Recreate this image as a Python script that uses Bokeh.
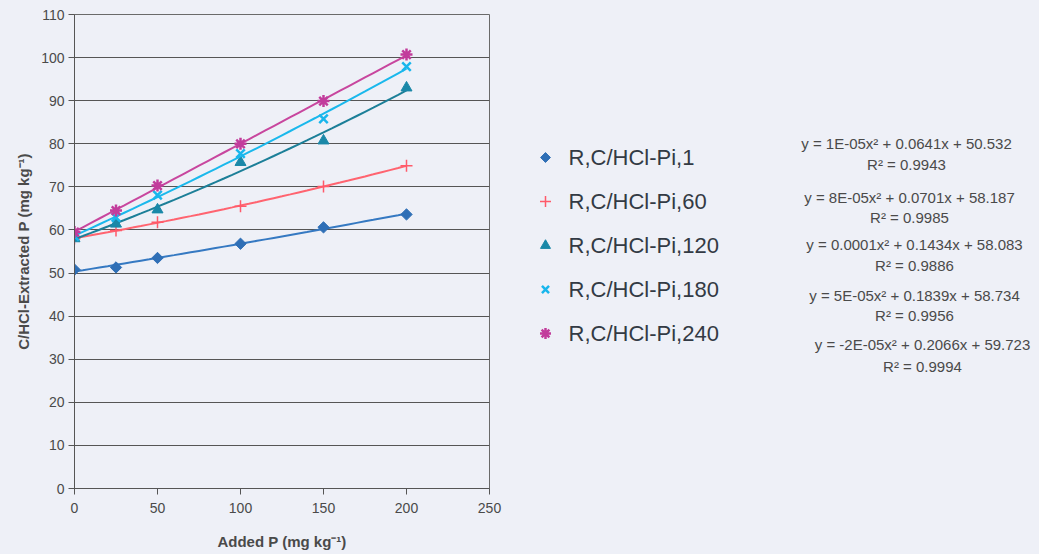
import numpy as np
from bokeh.plotting import figure
from bokeh.layouts import row
from bokeh.models import Range1d, FixedTicker, ColumnDataSource
from bokeh.core.properties import value
from bokeh.embed import file_html
from bokeh.resources import INLINE

# ---- data ----
added_p = [0, 25, 50, 100, 150, 200]
s1 = [50.8, 51.3, 53.5, 56.8, 60.6, 63.6]
s60 = [58.0, 59.9, 61.8, 65.5, 70.1, 74.9]
s120 = [58.0, 61.4, 64.7, 75.7, 80.7, 93.0]
s180 = [58.5, 62.9, 68.1, 77.7, 85.8, 97.9]
s240 = [59.5, 64.5, 70.3, 80.0, 89.9, 100.7]

names = ["R,C/HCl-Pi,1", "R,C/HCl-Pi,60", "R,C/HCl-Pi,120", "R,C/HCl-Pi,180", "R,C/HCl-Pi,240"]
equations = ["y = 1E-05x² + 0.0641x + 50.532",
             "y = 8E-05x² + 0.0701x + 58.187",
             "y = 0.0001x² + 0.1434x + 58.083",
             "y = 5E-05x² + 0.1839x + 58.734",
             "y = -2E-05x² + 0.2066x + 59.723"]
r2 = ["R² = 0.9943", "R² = 0.9985", "R² = 0.9886", "R² = 0.9956", "R² = 0.9994"]

x_ticks = [0, 50, 100, 150, 200, 250]
y_ticks = [0, 10, 20, 30, 40, 50, 60, 70, 80, 90, 100, 110]

series = [s1, s60, s120, s180, s240]
marker_types = ["square", "cross", "triangle", "x", "asterisk"]
marker_angles = [np.pi / 4, 0, 0, 0, 0]
marker_colors = ["#2f6fb6", "#ff5a6a", "#1a88a8", "#19b6ec", "#c23c9c"]
line_colors = ["#3579c2", "#ff6470", "#1c7f98", "#1ab8ec", "#c8469e"]
marker_sizes = [8, 12, 11, 12, 12]
marker_widths = [1, 1.5, 1, 2.5, 2.5]

BG = "#eef0f7"
FONT = "Liberation Sans"
TXT = "#4a4a4a"


def draw_marker(fig, x, y, mt, ang, mc, ms, mw, **kw):
    if mt in ("cross", "x", "asterisk"):
        fig.scatter(x, y, marker=mt, angle=ang, size=ms, line_color=mc, line_width=mw, **kw)
    else:
        fig.scatter(x, y, marker=mt, angle=ang, size=ms, fill_color=mc, line_color=mc,
                    line_width=mw, **kw)


# ---- main plot ----
p = figure(width=520, height=554, output_backend="svg", toolbar_location=None,
           x_range=Range1d(0, 250), y_range=Range1d(0, 110),
           min_border_left=74, min_border_right=31, min_border_top=14, min_border_bottom=66)
p.background_fill_color = BG
p.border_fill_color = BG
p.outline_line_color = "#6a6a6a"

p.xaxis.ticker = FixedTicker(ticks=x_ticks)
p.yaxis.ticker = FixedTicker(ticks=y_ticks)
for ax in (p.xaxis[0], p.yaxis[0]):
    ax.axis_line_color = "#555555"
    ax.major_tick_line_color = "#555555"
    ax.major_tick_out = 6
    ax.major_tick_in = 0
    ax.minor_tick_line_color = None
    ax.major_label_text_font = FONT
    ax.major_label_text_font_size = "14px"
    ax.major_label_text_color = TXT
    ax.axis_label_text_font = FONT
    ax.axis_label_text_font_size = "15px"
    ax.axis_label_text_font_style = "bold"
    ax.axis_label_text_color = TXT
p.xaxis.axis_label = "Added P (mg kg⁻¹)"
p.yaxis.axis_label = "C/HCl-Extracted P (mg kg⁻¹)"
p.xaxis.major_label_standoff = 8
p.xaxis.axis_label_standoff = 17
p.yaxis.major_label_standoff = 4
p.yaxis.axis_label_standoff = 6
p.xgrid.grid_line_color = None
p.ygrid.grid_line_color = "#555555"
p.ygrid.grid_line_width = 1.2

xs = np.array(added_p, dtype=float)
xfit = np.linspace(0, 200, 41)
for ys, mt, ang, mc, lc, ms, mw in zip(series, marker_types, marker_angles, marker_colors,
                                       line_colors, marker_sizes, marker_widths):
    coef = np.polyfit(xs, np.array(ys, dtype=float), 2)
    p.line(xfit, np.polyval(coef, xfit), line_color=lc, line_width=2)
    src = ColumnDataSource(dict(x=added_p, y=ys))
    draw_marker(p, "x", "y", mt, ang, mc, ms, mw, source=src)

# ---- legend / equations panel (coordinates = page pixels) ----
q = figure(width=519, height=554, output_backend="svg", toolbar_location=None,
           x_range=Range1d(520, 1039), y_range=Range1d(488, 14),
           min_border_left=0, min_border_right=0, min_border_top=14, min_border_bottom=66)
q.axis.visible = False
q.grid.visible = False
q.outline_line_color = None
q.background_fill_alpha = 0
q.border_fill_color = BG

row_y = [157 + 44 * i for i in range(5)]
legend_sizes = [7, 11, 10, 10, 11]
for i, (mt, ang, mc, ms, mw) in enumerate(zip(marker_types, marker_angles, marker_colors,
                                              legend_sizes, marker_widths)):
    draw_marker(q, [545], [row_y[i]], mt, ang, mc, ms, mw)

q.text(x=[568] * 5, y=row_y, text=names, text_font=value(FONT), text_font_size="22px",
       text_color="#333a44", text_baseline="middle", text_align="left")

eq_x = [906, 909, 914, 914, 922]
eq_y = [143, 197, 244, 295, 344]
r2_y = [164, 217, 265, 315, 366]
q.text(x=eq_x, y=eq_y, text=equations, text_font=value(FONT), text_font_size="15px",
       text_color=TXT, text_baseline="middle", text_align="center")
q.text(x=eq_x, y=r2_y, text=r2, text_font=value(FONT), text_font_size="15px",
       text_color=TXT, text_baseline="middle", text_align="center")

layout = row(p, q, spacing=0, styles={"background-color": BG})
open("out.html", "w").write(file_html(layout, INLINE))
